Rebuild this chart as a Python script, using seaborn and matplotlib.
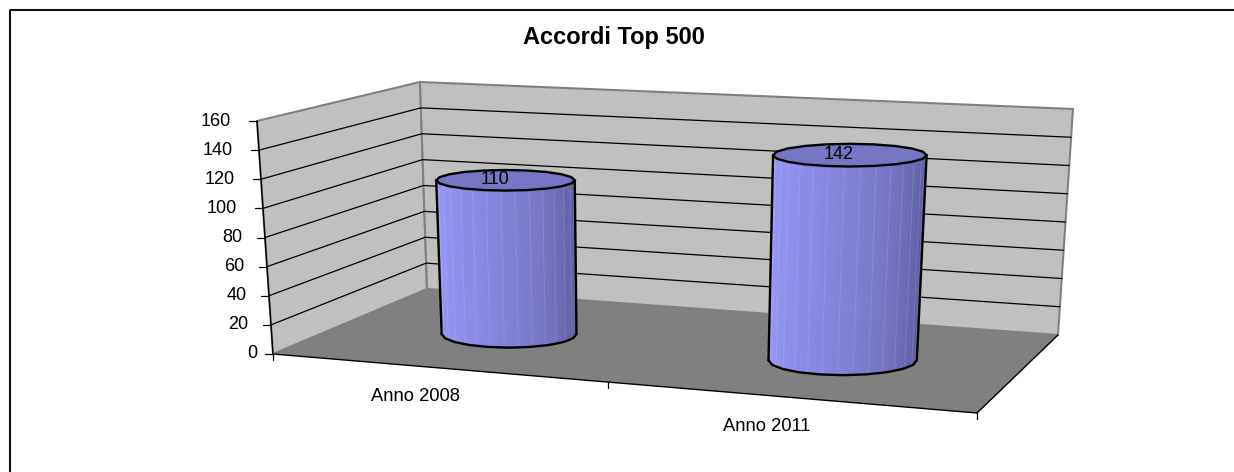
import numpy as np
import pandas as pd
import matplotlib
matplotlib.use("Agg")
import matplotlib.pyplot as plt
import seaborn as sns

# chart values
categories = ["Anno 2008", "Anno 2011"]
values = [110, 142]
y_ticks = [0, 20, 40, 60, 80, 100, 120, 140, 160]
title = "Accordi Top 500"

Y_MAX = 160
N_SIDES = 20
PERSPECTIVE = 1.1  # categories on the left look a bit narrower

# corners of the 3D box in pixels, (left/right, front/back)
floor_box = {"fl": (273, 354), "fr": (977, 413), "bl": (427, 289), "br": (1058, 335)}
top_box = {"fl": (257, 121), "fr": (992, 169), "bl": (420, 82), "br": (1073, 109)}


def project(u, val, d):
    """Map category position u (0-1), value and depth d (0 front, 1 back) to pixels."""
    u = u / (u + PERSPECTIVE * (1 - u))
    corners = []
    for box in (floor_box, top_box):
        fl, fr, bl, br = [np.array(box[k], dtype=float) for k in ("fl", "fr", "bl", "br")]
        front = fl + (fr - fl) * u
        back = bl + (br - bl) * u
        corners.append(front + (back - front) * d)
    t = val / Y_MAX
    return corners[0] + (corners[1] - corners[0]) * t


def ring(u0, val, d0, du=0.106, dd=0.2):
    # upright ellipse, no skew from the floor so the sides stay clean
    t = np.linspace(0, 2 * np.pi, N_SIDES + 1)
    left, right = project(u0 - du, val, d0), project(u0 + du, val, d0)
    cx, cy = (left + right) / 2
    rx = (right[0] - left[0]) / 2
    ry = (project(u0, val, d0 - dd)[1] - project(u0, val, d0 + dd)[1]) / 2
    return t, np.column_stack([cx + rx * np.cos(t), cy + ry * np.sin(t)])


def draw_cylinder(ax, u0, val, d0, palette):
    t, bottom = ring(u0, 0, d0)
    _, top = ring(u0, val, d0)

    # sides go from the left edge to the right edge through the front (y is down)
    n = len(palette)
    ts = np.linspace(np.pi, 0, n + 1)
    lo = np.column_stack([np.interp(ts, t, bottom[:, k]) for k in (0, 1)])
    hi = np.column_stack([np.interp(ts, t, top[:, k]) for k in (0, 1)])
    for i, col in enumerate(palette):
        quad = [lo[i], lo[i + 1], hi[i + 1], hi[i]]
        ax.fill([p[0] for p in quad], [p[1] for p in quad], facecolor=col, edgecolor=col, lw=0.4, zorder=4)
        # faint seams between the facets
        if i % 3 == 0 and i > 0:
            ax.plot([lo[i, 0], hi[i, 0]], [lo[i, 1], hi[i, 1]], color="white", alpha=0.12, lw=0.7, zorder=4.5)

    ax.fill(top[:, 0], top[:, 1], facecolor="#7676c4", edgecolor="black", lw=1.7, zorder=5)
    ax.plot(lo[:, 0], lo[:, 1], color="black", lw=1.7, zorder=6)
    ax.plot([lo[0, 0], hi[0, 0]], [lo[0, 1], hi[0, 1]], color="black", lw=1.7, zorder=6)
    ax.plot([lo[-1, 0], hi[-1, 0]], [lo[-1, 1], hi[-1, 1]], color="black", lw=1.7, zorder=6)


sns.set_theme(style="white")
plt.rcParams["font.family"] = ["Liberation Sans", "DejaVu Sans"]

fig = plt.figure(figsize=(12.34, 4.72), dpi=100, facecolor="white")
ax = fig.add_axes([0, 0, 1, 1])
ax.set_xlim(0, 1234)
ax.set_ylim(472, 0)
ax.axis("off")

# chart area border, only top and left show in the picture
ax.plot([9.5, 9.5, 1234], [472, 9.5, 9.5], color="#111111", lw=1.5, zorder=1)

ax.text(614, 37.5, title, ha="center", va="center", fontsize=17, fontweight="bold", color="black")

# walls and floor
wall_left = [project(0, 0, 0), project(0, 0, 1), project(0, Y_MAX, 1), project(0, Y_MAX, 0)]
wall_back = [project(0, 0, 1), project(1, 0, 1), project(1, Y_MAX, 1), project(0, Y_MAX, 1)]
floor = [project(0, 0, 0), project(1, 0, 0), project(1, 0, 1), project(0, 0, 1)]
for poly in (wall_left, wall_back):
    ax.fill(*zip(*poly), facecolor="#c0c0c0", edgecolor="#808080", lw=1.5, zorder=1)
ax.fill(*zip(*floor), facecolor="#808080", edgecolor="none", zorder=2)

# gridlines over both walls
rows = []
for v in y_ticks[1:-1]:
    for order, (u, d) in enumerate([(0, 0), (0, 1), (1, 1)]):
        px, py = project(u, v, d)
        rows.append({"value": v, "order": order, "px": px, "py": py})
grid_df = pd.DataFrame(rows)
sns.lineplot(data=grid_df, x="px", y="py", units="value", estimator=None, sort=False,
             color="black", lw=0.9, legend=False, ax=ax, zorder=3)
ax.set_xlim(0, 1234)
ax.set_ylim(472, 0)

# value axis
edge0, edge1 = project(0, 0, 0), project(0, Y_MAX, 0)
ax.plot([edge0[0], edge1[0]], [edge0[1], edge1[1]], color="black", lw=1.0, zorder=3)
label_gap = {1: 16, 2: 22.5, 3: 26}
for v in y_ticks:
    ex, ey = project(0, v, 0)
    ax.plot([ex - 8, ex], [ey, ey], color="black", lw=0.9, zorder=3)
    lab = str(v)
    ax.text(ex - label_gap[len(lab)], ey, lab, ha="right", va="center", fontsize=13, color="black")

# category axis
front_l, front_r = project(0, 0, 0), project(1, 0, 0)
ax.plot([front_l[0], front_r[0]], [front_l[1], front_r[1]], color="black", lw=1.0, zorder=3)
back_r = project(1, 0, 1)
ax.plot([front_r[0], back_r[0]], [front_r[1], back_r[1]], color="black", lw=1.0, zorder=3)
for u in np.linspace(0, 1, len(categories) + 1):
    tx, ty = project(u, 0, 0)
    ax.plot([tx, tx], [ty, ty + 6], color="black", lw=0.9, zorder=3)

palette = sns.blend_palette(["#9999ff", "#8a8ae6", "#7777c6", "#5a5a9e"], 44)
n = len(categories)
for i, (cat, val) in enumerate(zip(categories, values)):
    u_mid = (i + 0.5) / n
    u0 = u_mid + 0.005
    d0 = 0.5
    draw_cylinder(ax, u0, val, d0, palette)
    lx, ly = project(u0 - 0.015, val, d0)
    ax.text(lx, ly, str(val), ha="center", va="center", fontsize=13, color="black", zorder=7)
    cx, cy = project(u_mid, 0, 0)
    ax.text(cx - 21, cy + 29, cat, ha="center", va="center", fontsize=13.2, color="black")

fig.savefig("out.png", dpi=100)
